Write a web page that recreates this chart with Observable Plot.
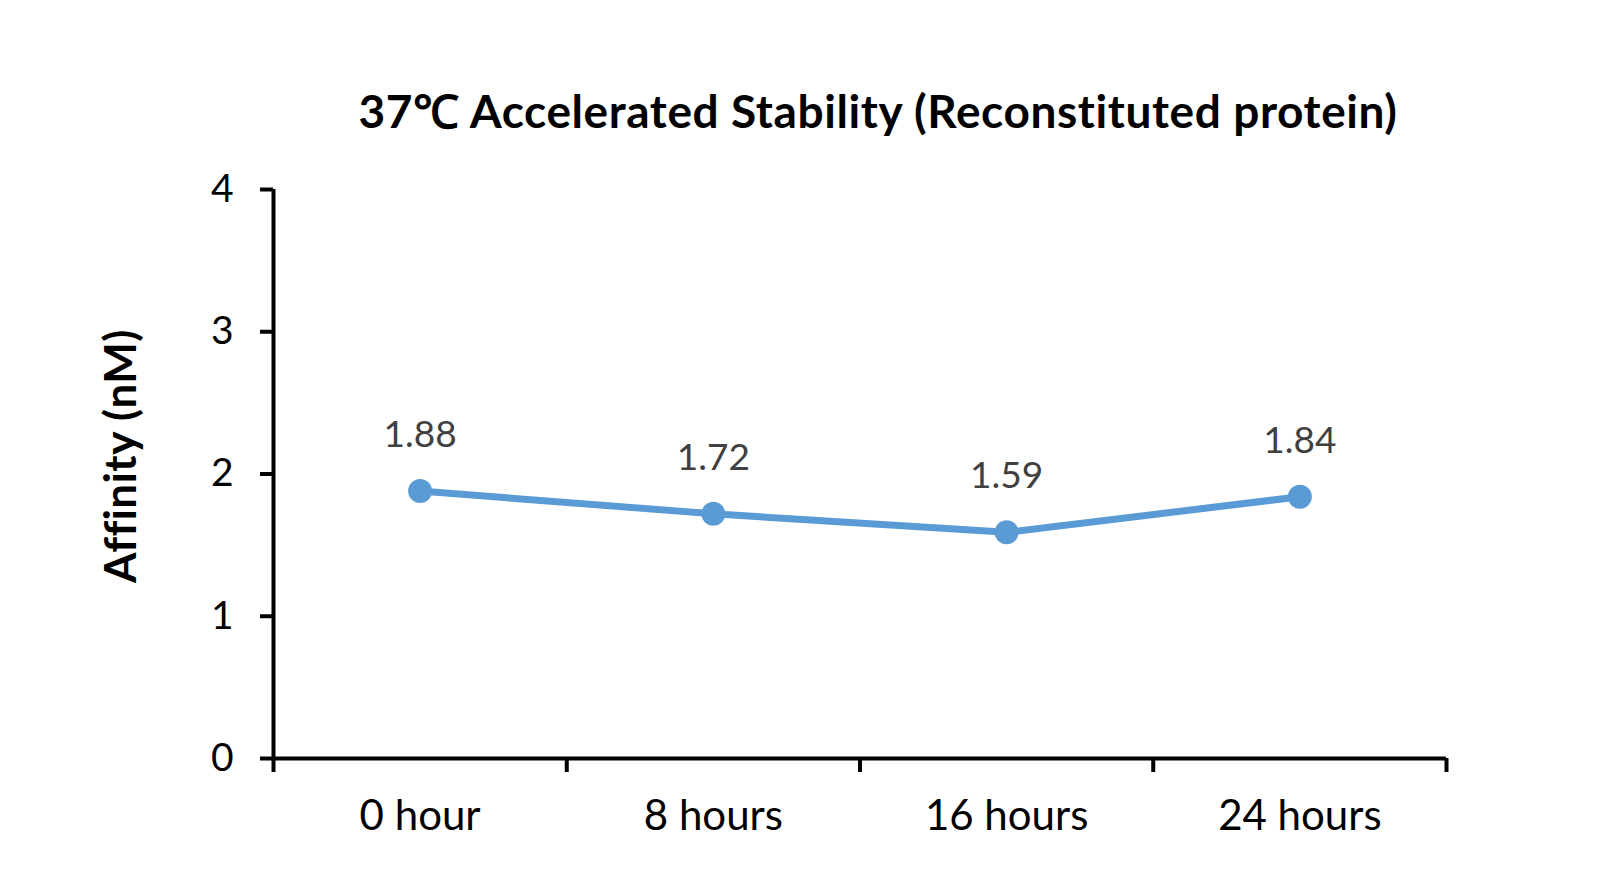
<!DOCTYPE html>
<html>
<head>
<meta charset="utf-8">
<script src="https://cdn.jsdelivr.net/npm/d3@7"></script>
<script src="https://cdn.jsdelivr.net/npm/@observablehq/plot@0.6"></script>
<style>
  html, body { margin: 0; padding: 0; background: #fff; }
  #wrap { position: relative; width: 1597px; height: 888px; font-family: Lato, "Open Sans", sans-serif; }
  #title { position: absolute; left: 0; width: 1756px; top: 81px; text-align: center; font-weight: bold; font-size: 46px; letter-spacing: 0.6px; color: #000; line-height: 60px; white-space: nowrap; }
  #ylabel { position: absolute; left: 119px; top: 456px; width: 400px; height: 60px; margin-left: -200px; margin-top: -30px; line-height: 60px; text-align: center; transform: rotate(-90deg); font-weight: bold; font-size: 44px; letter-spacing: 0.5px; color: #000; white-space: nowrap; }
  #chart { position: absolute; left: 0; top: 0; }
</style>
</head>
<body>
<div id="wrap">
  <div id="chart"></div>
  <div id="title">37℃ Accelerated Stability (Reconstituted protein)</div>
  <div id="ylabel"></div>
</div>
<script>
const categories = ["0 hour", "8 hours", "16 hours", "24 hours"];
const affinity = [1.88, 1.72, 1.59, 1.84];
const yTicks = [0, 1, 2, 3, 4];
const yLabel = "Affinity (nM)";

document.getElementById("ylabel").textContent = yLabel;

const data = categories.map((c, i) => ({cat: c, pos: i + 0.5, value: affinity[i]}));
const boundaries = d3.range(categories.length + 1);

const chart = Plot.plot({
  width: 1597,
  height: 888,
  marginLeft: 273,
  marginRight: 151,
  marginTop: 189,
  marginBottom: 130,
  style: {fontFamily: "Lato, 'Open Sans', sans-serif", background: "white"},
  x: {type: "linear", domain: [0, categories.length]},
  y: {domain: [0, 4]},
  marks: [
    Plot.axisY({ticks: yTicks, tickSize: 13, tickPadding: 27, strokeWidth: 4, fontSize: 39, tickFormat: d => String(d), label: null, stroke: "black", color: "black"}),
    Plot.axisX({ticks: boundaries, tickSize: 14, strokeWidth: 4, tickFormat: () => "", label: null}),
    Plot.axisX({ticks: data.map(d => d.pos), tickSize: 0, tickPadding: 42, fontSize: 42, tickFormat: (d) => categories[Math.round(d - 0.5)], label: null, color: "black"}),
    Plot.ruleX([0], {strokeWidth: 4, stroke: "black"}),
    Plot.ruleY([0], {strokeWidth: 4, stroke: "black"}),
    Plot.line(data, {x: "pos", y: "value", stroke: "#5B9BD5", strokeWidth: 7}),
    Plot.dot(data, {x: "pos", y: "value", r: 12, fill: "#5B9BD5"}),
    Plot.text(data, {x: "pos", y: "value", text: d => d.value.toFixed(2), dy: -56, fontSize: 37, fill: "#404040"})
  ]
});
document.getElementById("chart").appendChild(chart);
</script>
</body>
</html>
